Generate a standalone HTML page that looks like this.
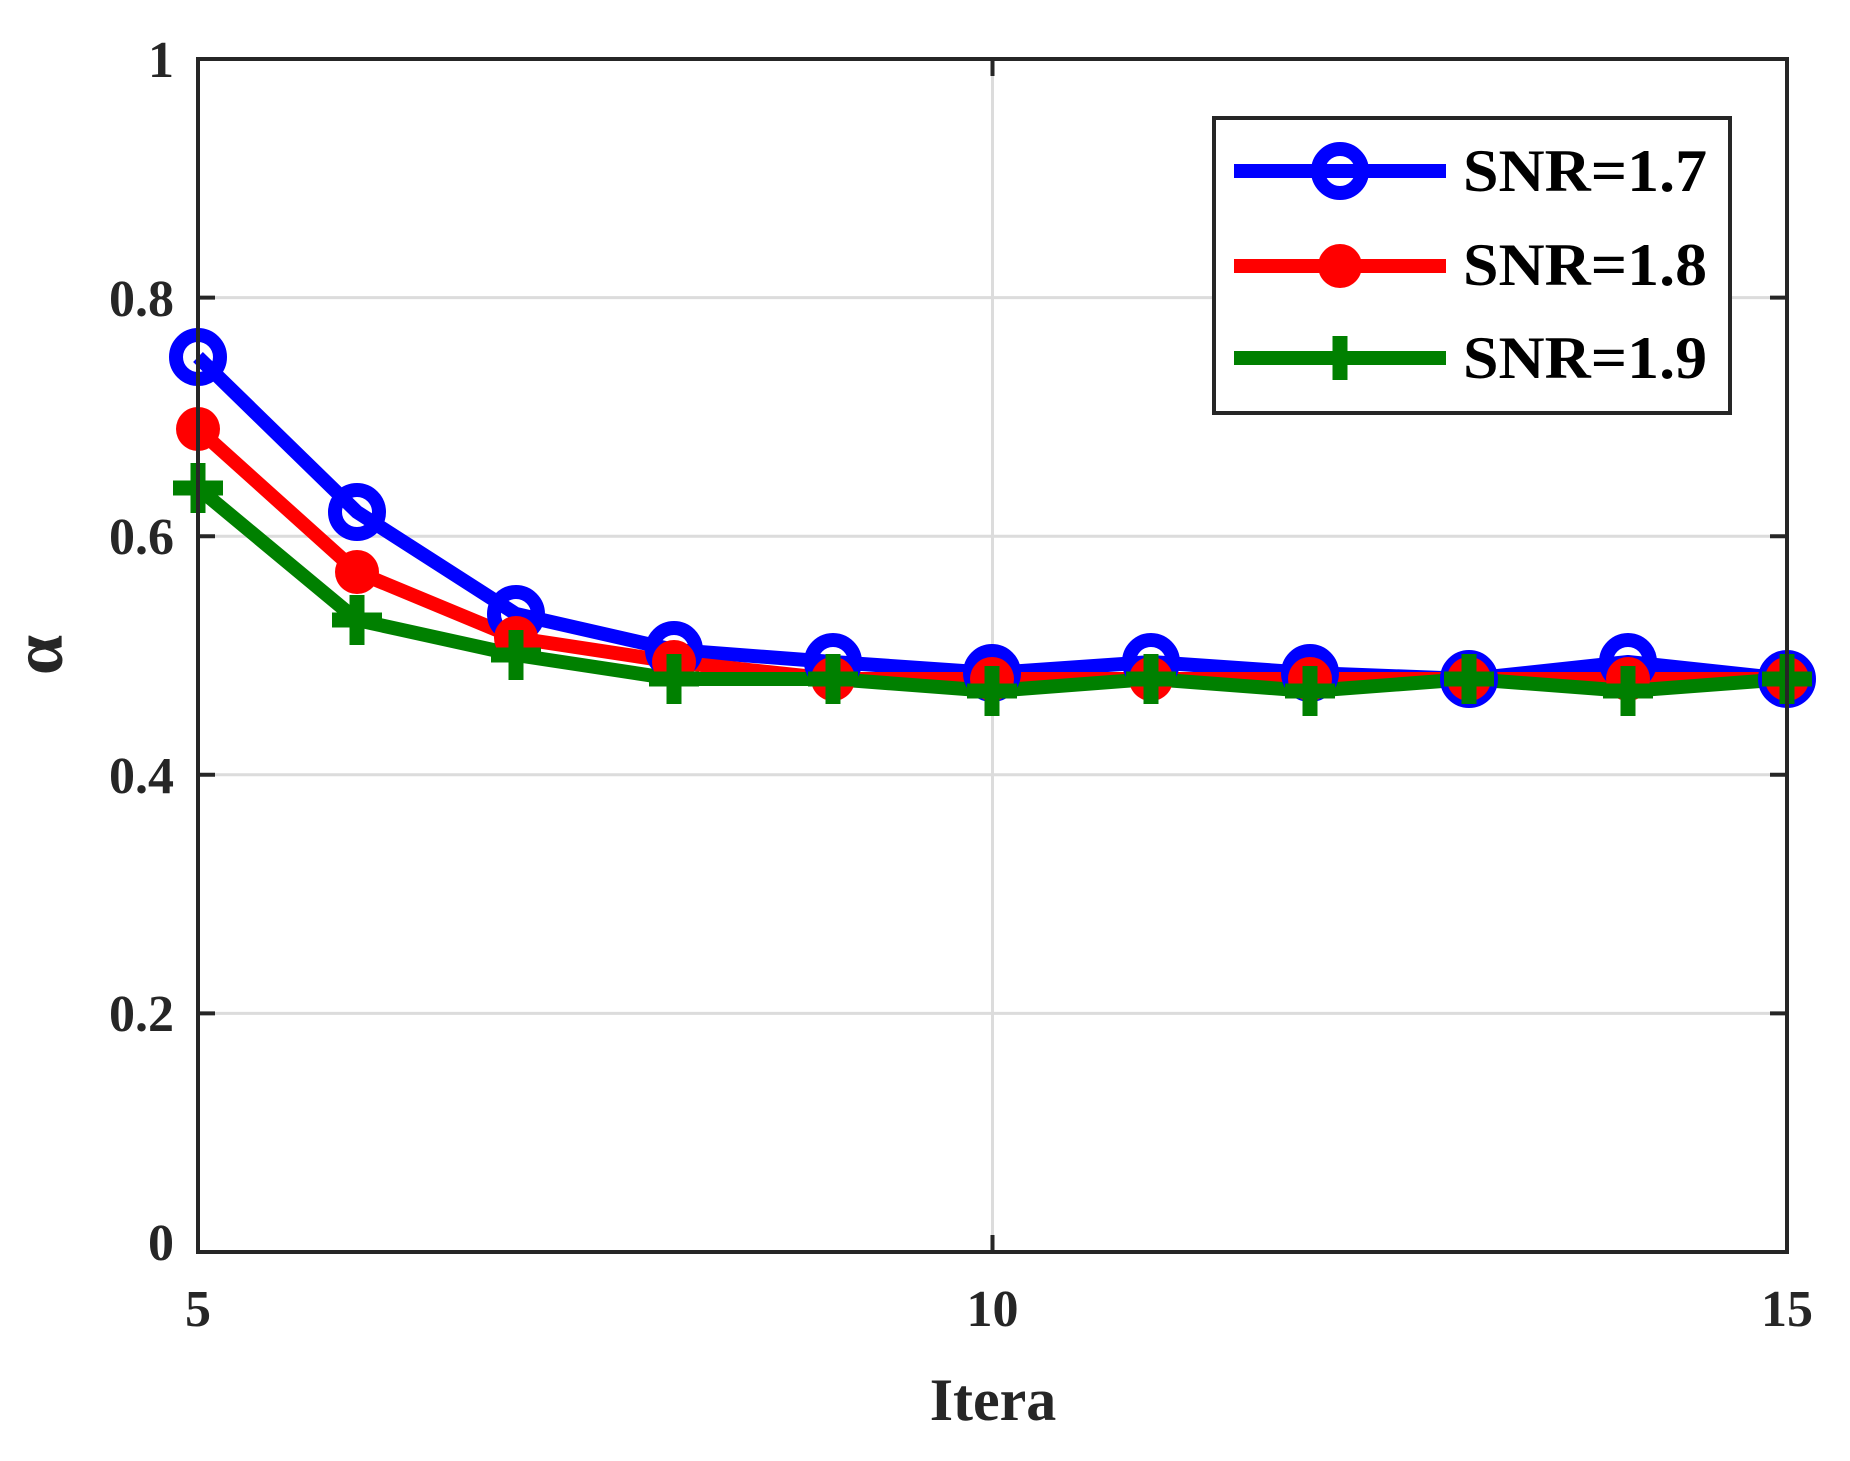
<!DOCTYPE html>
<html><head><meta charset="utf-8"><style>body{margin:0;background:#fff}svg{display:block}</style></head>
<body>
<svg width="1850" height="1461" viewBox="0 0 1850 1461" xmlns="http://www.w3.org/2000/svg" font-family="Liberation Serif, serif" font-weight="bold">
<rect width="1850" height="1461" fill="#fff"/>
<g stroke="#dcdcdc" stroke-width="3">
<line x1="198" y1="1013.4" x2="1787" y2="1013.4"/>
<line x1="198" y1="774.8" x2="1787" y2="774.8"/>
<line x1="198" y1="536.2" x2="1787" y2="536.2"/>
<line x1="198" y1="297.6" x2="1787" y2="297.6"/>
<line x1="992.5" y1="59" x2="992.5" y2="1252"/>
</g>
<g stroke="#262626" stroke-width="4">
<line x1="198" y1="1013.4" x2="215" y2="1013.4"/><line x1="1787" y1="1013.4" x2="1770" y2="1013.4"/>
<line x1="198" y1="774.8" x2="215" y2="774.8"/><line x1="1787" y1="774.8" x2="1770" y2="774.8"/>
<line x1="198" y1="536.2" x2="215" y2="536.2"/><line x1="1787" y1="536.2" x2="1770" y2="536.2"/>
<line x1="198" y1="297.6" x2="215" y2="297.6"/><line x1="1787" y1="297.6" x2="1770" y2="297.6"/>
<line x1="992.5" y1="1252" x2="992.5" y2="1235"/><line x1="992.5" y1="59" x2="992.5" y2="76"/>
</g>
<g fill="#262626" font-size="52" text-anchor="end">
<text x="174" y="1260">0</text>
<text x="174" y="1031">0.2</text>
<text x="174" y="793">0.4</text>
<text x="174" y="554">0.6</text>
<text x="174" y="316">0.8</text>
<text x="174" y="77">1</text>
</g>
<g fill="#262626" font-size="52" text-anchor="middle">
<text x="198" y="1326">5</text>
<text x="992.5" y="1326">10</text>
<text x="1787" y="1326">15</text>
<text x="993" y="1420" font-size="60">Itera</text>
<text transform="translate(62,655) rotate(-90)" font-size="72">α</text>
</g>
<g fill="none" stroke-width="14" stroke-linejoin="round">
<polyline stroke="#0000ff" points="198,357 357,512 516,614 674,650 833,662 992,673 1151,662 1310,673 1469,679 1628,662 1787,679"/>
<polyline stroke="#ff0000" points="198,429 357,572 516,638 674,662 833,679 992,679 1151,679 1310,679 1469,679 1628,679 1787,679"/>
<polyline stroke="#008000" points="198,488 357,620 516,655 674,679 833,679 992,691 1151,679 1310,691 1469,679 1628,691 1787,679"/>
</g>
<g fill="none" stroke="#0000ff" stroke-width="14">
<circle cx="198" cy="357" r="22"/><circle cx="357" cy="512" r="22"/><circle cx="516" cy="614" r="22"/><circle cx="674" cy="650" r="22"/><circle cx="833" cy="662" r="22"/><circle cx="992" cy="673" r="22"/><circle cx="1151" cy="662" r="22"/><circle cx="1310" cy="673" r="22"/><circle cx="1469" cy="679" r="22"/><circle cx="1628" cy="662" r="22"/><circle cx="1787" cy="679" r="22"/>
</g>
<g fill="#ff0000">
<circle cx="198" cy="429" r="22"/><circle cx="357" cy="572" r="22"/><circle cx="516" cy="638" r="22"/><circle cx="674" cy="662" r="22"/><circle cx="833" cy="679" r="22"/><circle cx="992" cy="679" r="22"/><circle cx="1151" cy="679" r="22"/><circle cx="1310" cy="679" r="22"/><circle cx="1469" cy="679" r="22"/><circle cx="1628" cy="679" r="22"/><circle cx="1787" cy="679" r="22"/>
</g>
<g stroke="#008000" stroke-width="15">
<path d="M173 488h50M198 463v50M332 620h50M357 595v50M491 655h50M516 630v50M649 679h50M674 654v50M808 679h50M833 654v50M967 691h50M992 666v50M1126 679h50M1151 654v50M1285 691h50M1310 666v50M1444 679h50M1469 654v50M1603 691h50M1628 666v50M1762 679h50M1787 654v50"/>
</g>
<rect x="198" y="59" width="1589" height="1193" fill="none" stroke="#262626" stroke-width="4"/>
<rect x="1214" y="118" width="516" height="295" fill="#fff" stroke="#262626" stroke-width="4"/>
<g stroke-width="14">
<line x1="1234" y1="171" x2="1446" y2="171" stroke="#0000ff"/>
<line x1="1234" y1="266" x2="1446" y2="266" stroke="#ff0000"/>
<line x1="1234" y1="358" x2="1446" y2="358" stroke="#008000"/>
</g>
<circle cx="1340" cy="171" r="22" fill="none" stroke="#0000ff" stroke-width="14"/>
<circle cx="1340" cy="266" r="22" fill="#ff0000"/>
<path d="M1340 336v44" stroke="#008000" stroke-width="15"/>
<g fill="#000" font-size="60" textLength="240">
<text x="1463" y="191" textLength="244" lengthAdjust="spacingAndGlyphs">SNR=1.7</text>
<text x="1463" y="285" textLength="244" lengthAdjust="spacingAndGlyphs">SNR=1.8</text>
<text x="1463" y="378" textLength="244" lengthAdjust="spacingAndGlyphs">SNR=1.9</text>
</g>
</svg>
</body></html>
